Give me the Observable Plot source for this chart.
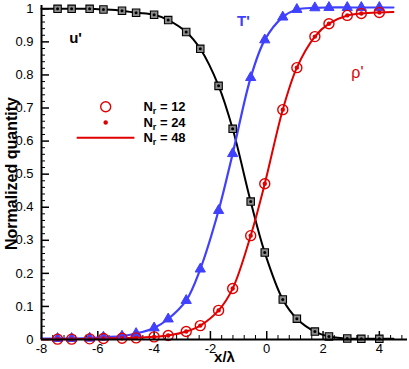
<!DOCTYPE html>
<html><head><meta charset="utf-8">
<script src="https://cdn.jsdelivr.net/npm/d3@7"></script>
<script src="https://cdn.jsdelivr.net/npm/@observablehq/plot@0.6"></script>
<style>body{margin:0;background:#fff;} svg{display:block}</style>
</head><body><div id="chart"></div>
<script>
// sample positions (x/λ) of the markers
const xPos = [-7.43,-6.93,-6.29,-5.80,-5.14,-4.64,-4.00,-3.50,-2.86,-2.36,-1.71,-1.21,-0.57,-0.07,0.57,1.07,1.71,2.21,2.86,3.36,4.00];
// u' (black squares)
const uPrime = [1.0,1.0,1.0,0.998,0.994,0.988,0.982,0.966,0.930,0.879,0.767,0.637,0.417,0.263,0.121,0.063,0.024,0.009,0.003,0.002,0.002];
// T' (blue triangles)
const tPrime = [0.003,0.003,0.004,0.007,0.010,0.018,0.035,0.062,0.118,0.213,0.390,0.562,0.792,0.906,0.975,0.998,1.003,1.004,1.004,1.004,1.004];
// rho' (red circles)
const rhoPrime = [0.001,0.001,0.002,0.003,0.004,0.005,0.008,0.012,0.024,0.042,0.088,0.154,0.314,0.471,0.695,0.822,0.916,0.955,0.980,0.986,0.989];
// end points of the Nr = 48 curves
const lineEndX = [-8, 4.5];
const uEnds = [1.0, 0.002];
const tEnds = [0.003, 1.004];
const rhoEnds = [0.0, 0.990];

const xMajor = [-8,-6,-4,-2,0,2,4];
const yMajor = [0,0.1,0.2,0.3,0.4,0.5,0.6,0.7,0.8,0.9,1];
const legendLabels = ["12","24","48"];

const xMinor = d3.range(-8, 5.01, 0.4).map(v => +v.toFixed(2)).filter(v => !xMajor.includes(v));
const yMinor = d3.range(0, 1.001, 0.02).map(v => +v.toFixed(2)).filter(v => !yMajor.includes(v));

const pts = (ys) => xPos.map((x, i) => ({x, y: ys[i]}));
const curve = (ys, ends) => [{x: lineEndX[0], y: ends[0]}, ...pts(ys), {x: lineEndX[1], y: ends[1]}];

const BLUE = "#4040ff", RED = "#e00000";

const svg = Plot.plot({
  width: 409, height: 369,
  marginLeft: 41, marginRight: 2, marginTop: 5, marginBottom: 30,
  style: {fontFamily: "'Liberation Sans', Arial, sans-serif", fontSize: "13px", color: "black", background: "white"},
  x: {domain: [-8, 5], label: null},
  y: {domain: [0, 1.01], label: null},
  marks: [
    // ticks (inward)
    Plot.ruleX(xMinor, {x: d => d, y1: 0, y2: 0, insetTop: -4, stroke: "black", strokeWidth: 1}),
    Plot.ruleX(xMajor, {x: d => d, y1: 0, y2: 0, insetTop: -8, stroke: "black", strokeWidth: 1.5}),
    Plot.ruleY(yMinor, {y: d => d, x1: -8, x2: -8, insetRight: -4, stroke: "black", strokeWidth: 1}),
    Plot.ruleY(yMajor, {y: d => d, x1: -8, x2: -8, insetRight: -8, stroke: "black", strokeWidth: 1.5}),
    Plot.axisX(xMajor, {tickSize: 0, tickPadding: 4, tickFormat: d => String(d), fontSize: 13, label: null}),
    Plot.axisY(yMajor, {tickSize: 0, tickPadding: 8, tickFormat: d => String(d), fontSize: 13, label: null}),
    // curves Nr = 48
    Plot.line(curve(uPrime, uEnds), {x: "x", y: "y", curve: "catmull-rom", stroke: "black", strokeWidth: 2}),
    Plot.line(curve(tPrime, tEnds), {x: "x", y: "y", curve: "catmull-rom", stroke: BLUE, strokeWidth: 2.2}),
    Plot.line(curve(rhoPrime, rhoEnds), {x: "x", y: "y", curve: "catmull-rom", stroke: RED, strokeWidth: 2}),
    // markers Nr = 12 and Nr = 24
    Plot.dot(pts(uPrime), {x: "x", y: "y", symbol: "square", r: 4.2, stroke: "black", strokeWidth: 1.1, fill: "#8a8a8a"}),
    Plot.dot(pts(uPrime), {x: "x", y: "y", r: 1.5, fill: "black"}),
    Plot.dot(pts(tPrime), {x: "x", y: "y", symbol: "triangle", r: 3.8, fill: BLUE, stroke: BLUE, strokeWidth: 1}),
    Plot.dot(pts(rhoPrime), {x: "x", y: "y", r: 5, stroke: RED, strokeWidth: 1.4, fill: "none"}),
    Plot.dot(pts(rhoPrime), {x: "x", y: "y", r: 2.2, fill: RED}),
    // axis lines
    Plot.ruleX([-8], {stroke: "black", strokeWidth: 2}),
    Plot.ruleY([0], {stroke: "black", strokeWidth: 2}),
    // axis titles
    Plot.text(["x/λ"], {frameAnchor: "bottom", dy: 22, fontWeight: "bold", fontSize: 15}),
    Plot.text(["Normalized quantity"], {frameAnchor: "left", textAnchor: "middle", rotate: -90, dx: -30, dy: 1, fontWeight: "bold", fontSize: 16}),
    // curve annotations
    Plot.text(["u'"], {x: () => -6.79, y: () => 0.912, fontWeight: "bold", fontSize: 15, fill: "black"}),
    Plot.text(["T'"], {x: () => -0.83, y: () => 0.964, fontWeight: "bold", fontSize: 15, fill: BLUE}),
    Plot.text(["ρ'"], {x: () => 3.22, y: () => 0.807, fontSize: 16, fill: RED}),
    // legend
    Plot.dot([0], {x: () => -5.72, y: () => 0.704, r: 5, stroke: RED, strokeWidth: 1.4, fill: "none"}),
    Plot.dot([0], {x: () => -5.72, y: () => 0.656, r: 2.2, fill: RED}),
    Plot.link([0], {x1: () => -6.75, x2: () => -4.70, y1: () => 0.610, y2: () => 0.610, stroke: RED, strokeWidth: 2}),
    Plot.text(legendLabels, {x: () => -4.38, y: (d, i) => [0.704, 0.656, 0.610][i], text: d => "N_r = " + d, textAnchor: "start", fontWeight: "bold", fontSize: 13})
  ]
});

// subscript r in legend labels
svg.querySelectorAll("text").forEach(t => {
  const m = t.textContent.match(/^N_r = (\d+)$/);
  if (!m) return;
  t.textContent = "";
  const ns = "http://www.w3.org/2000/svg";
  const a = document.createElementNS(ns, "tspan"); a.textContent = "N";
  const b = document.createElementNS(ns, "tspan"); b.textContent = "r"; b.setAttribute("font-size", "9"); b.setAttribute("dy", "3");
  const c = document.createElementNS(ns, "tspan"); c.textContent = " = " + m[1]; c.setAttribute("dy", "-3");
  t.append(a, b, c);
});

document.getElementById("chart").append(svg);
</script>
</body></html>
